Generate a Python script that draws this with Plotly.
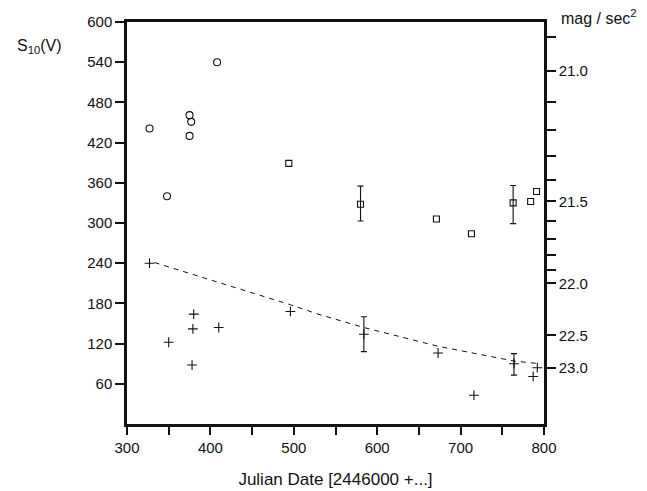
import plotly.graph_objects as go

# ---- data ----
circle_x = [327, 348, 375, 377, 375, 408]
circle_y = [441, 340, 461, 451, 430, 540]

square_x = [494, 671, 713, 784, 791]
square_y = [389, 306, 284, 332, 347]
square_err_x = [580, 763]
square_err_y = [328, 330]
square_err_plus = [27, 26]
square_err_minus = [25, 31]

cross_x = [327, 350, 380, 379, 378, 410, 496, 673, 716, 787, 792]
cross_y = [240, 122, 164, 142, 88, 144, 168, 106, 43, 71, 84]
cross_err_x = [584, 764]
cross_err_y = [134, 90]
cross_err_plus = [26, 15]
cross_err_minus = [26, 17]

fit_x = [333, 400, 496, 529, 584, 673, 764, 795]
fit_y = [241, 215, 178, 164, 144, 116, 94, 90]

x_tick_vals = [300, 400, 500, 600, 700, 800]
y_tick_vals = [60, 120, 180, 240, 300, 360, 420, 480, 540, 600]
mag_labels = ["21.0", "21.5", "22.0", "22.5", "23.0"]
mag_minor = [20.9, 21.1, 21.2, 21.3, 21.4, 21.6, 21.7, 21.8, 21.9]
S_at_mag23 = 83.5  # S10 value corresponding to 23.0 mag/sec^2


def mag_to_s(m):
    return S_at_mag23 * 10 ** (0.4 * (23.0 - m))


FONT = "Liberation Sans, Arial, Helvetica, sans-serif"
BLACK = "#111111"

fig = go.Figure()

fig.add_trace(go.Scatter(
    x=fit_x, y=fit_y, mode="lines",
    line=dict(color=BLACK, width=1, dash="5px,5px"),
    hoverinfo="skip", showlegend=False))

fig.add_trace(go.Scatter(
    x=circle_x, y=circle_y, mode="markers",
    marker=dict(symbol="circle-open", size=7, color=BLACK, line=dict(width=1.1, color=BLACK)),
    showlegend=False))

fig.add_trace(go.Scatter(
    x=square_x, y=square_y, mode="markers",
    marker=dict(symbol="square-open", size=6, color=BLACK, line=dict(width=1.1, color=BLACK)),
    showlegend=False))

fig.add_trace(go.Scatter(
    x=square_err_x, y=square_err_y, mode="markers",
    marker=dict(symbol="square-open", size=6, color=BLACK, line=dict(width=1.1, color=BLACK)),
    error_y=dict(type="data", symmetric=False, array=square_err_plus,
                 arrayminus=square_err_minus, color=BLACK, thickness=1.1, width=3),
    showlegend=False))

fig.add_trace(go.Scatter(
    x=cross_x, y=cross_y, mode="markers",
    marker=dict(symbol="cross-thin", size=7, color=BLACK, line=dict(width=1.1, color=BLACK)),
    showlegend=False))

fig.add_trace(go.Scatter(
    x=cross_err_x, y=cross_err_y, mode="markers",
    marker=dict(symbol="cross-thin", size=7, color=BLACK, line=dict(width=1.1, color=BLACK)),
    error_y=dict(type="data", symmetric=False, array=cross_err_plus,
                 arrayminus=cross_err_minus, color=BLACK, thickness=1.1, width=3),
    showlegend=False))

# invisible trace to activate right axis
fig.add_trace(go.Scatter(x=[None], y=[None], yaxis="y2", showlegend=False, hoverinfo="skip"))

fig.update_layout(
    width=639, height=483,
    margin=dict(l=119, r=103, t=14, b=67, autoexpand=False),
    paper_bgcolor="white", plot_bgcolor="white",
    font=dict(family=FONT, size=15, color=BLACK),
    xaxis=dict(
        range=[300, 800], tickvals=x_tick_vals, automargin=False,
        ticks="outside", ticklen=8, tickwidth=2, tickcolor=BLACK,
        minor=dict(dtick=50, tick0=300, ticks="outside", ticklen=8, tickwidth=2, tickcolor=BLACK),
        showline=True, linewidth=2.5, linecolor=BLACK, mirror=True,
        showgrid=False, zeroline=False,
        tickfont=dict(size=15),
        title=dict(text="Julian Date [2446000 +...]", font=dict(size=17), standoff=19),
    ),
    yaxis=dict(
        range=[0, 600], tickvals=y_tick_vals, automargin=False,
        ticks="outside", ticklen=9, tickwidth=2, tickcolor=BLACK,
        showline=True, linewidth=2.5, linecolor=BLACK,
        showgrid=False, zeroline=False,
        tickfont=dict(size=15),
    ),
    yaxis2=dict(
        overlaying="y", side="right", range=[0, 600], automargin=False,
        tickvals=[mag_to_s(float(m)) for m in mag_labels], ticktext=mag_labels,
        ticks="outside", ticklen=9, tickwidth=2, tickcolor=BLACK,
        minor=dict(tickmode="array", tickvals=[mag_to_s(m) for m in mag_minor],
                   ticks="outside", ticklen=9, tickwidth=2, tickcolor=BLACK),
        showline=True, linewidth=2.5, linecolor=BLACK,
        showgrid=False, zeroline=False,
        tickfont=dict(size=15),
    ),
    annotations=[
        dict(text="S<sub>10</sub>(V)", xref="paper", yref="paper",
             x=-0.269, y=0.938, xanchor="left", yanchor="middle",
             showarrow=False, font=dict(size=16)),
        dict(text="mag / sec<sup>2</sup>", xref="paper", yref="paper",
             x=1.036, y=1.012, xanchor="left", yanchor="middle",
             showarrow=False, font=dict(size=16)),
    ],
)

fig.write_html("out.html")
